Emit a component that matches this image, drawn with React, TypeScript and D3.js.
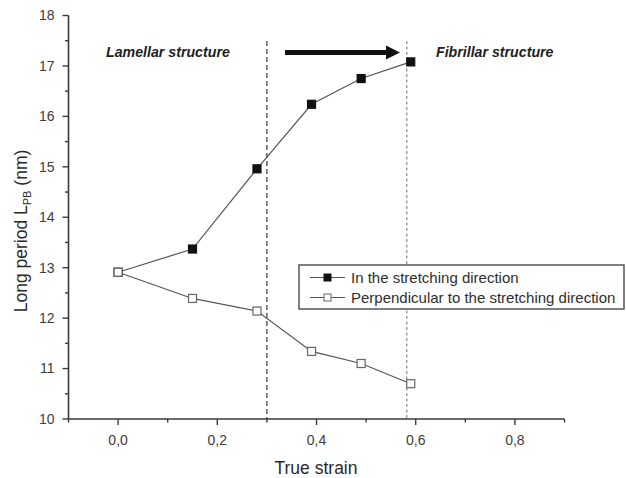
import React, { useEffect, useRef } from "react";
import * as d3 from "d3";

const strain = [0, 0.15, 0.28, 0.39, 0.49, 0.59];
const stretching = [12.91, 13.37, 14.96, 16.24, 16.75, 17.08];
const perpendicular = [12.91, 12.39, 12.14, 11.34, 11.1, 10.7];
const xTicks = [0, 0.2, 0.4, 0.6, 0.8];
const yTicks = [10, 11, 12, 13, 14, 15, 16, 17, 18];
const boundaries = [0.3, 0.582];
const legendLabels = ["In the stretching direction", "Perpendicular to the stretching direction"];

const width = 626;
const height = 478;
const font = "Arial, 'Liberation Sans', sans-serif";

const App = () => {
  const ref = useRef<SVGSVGElement>(null);

  useEffect(() => {
    const svg = d3.select(ref.current);
    svg.selectAll("*").remove();

    const x = d3.scaleLinear().domain([-0.1, 0.9]).range([68.5, 564.5]);
    const y = d3.scaleLinear().domain([10, 18]).range([419, 15.5]);

    const axisColor = "#3a3a3a";

    // x axis
    const gx = svg.append("g").attr("transform", `translate(0,${y(10)})`);
    gx.append("line").attr("x1", x(-0.1)).attr("x2", x(0.9)).attr("stroke", axisColor).attr("stroke-width", 1.6);
    d3.range(-0.1, 0.95, 0.1).forEach((v) => {
      const major = xTicks.some((t) => Math.abs(t - v) < 1e-6);
      gx.append("line")
        .attr("x1", x(v)).attr("x2", x(v))
        .attr("y1", 0).attr("y2", major ? 6 : 3.5)
        .attr("stroke", axisColor).attr("stroke-width", 1.4);
    });
    gx.selectAll("text.tick")
      .data(xTicks)
      .enter()
      .append("text")
      .attr("x", (d) => x(d))
      .attr("y", 26)
      .attr("text-anchor", "middle")
      .style("font-family", font)
      .style("font-size", "14px")
      .style("fill", "#3c3c3c")
      .text((d) => d3.format(".1f")(d).replace(".", ","));

    // y axis
    const gy = svg.append("g").attr("transform", `translate(${x(-0.1)},0)`);
    gy.append("line").attr("y1", y(10)).attr("y2", y(18)).attr("stroke", axisColor).attr("stroke-width", 1.6);
    d3.range(10, 18.01, 0.5).forEach((v) => {
      const major = Number.isInteger(v);
      gy.append("line")
        .attr("x1", major ? -6 : -3.5).attr("x2", 0)
        .attr("y1", y(v)).attr("y2", y(v))
        .attr("stroke", axisColor).attr("stroke-width", 1.4);
    });
    gy.selectAll("text.tick")
      .data(yTicks)
      .enter()
      .append("text")
      .attr("x", -14)
      .attr("y", (d) => y(d))
      .attr("dy", "0.35em")
      .attr("text-anchor", "end")
      .style("font-family", font)
      .style("font-size", "14px")
      .style("fill", "#3c3c3c")
      .text((d) => d);

    // axis titles
    svg.append("text")
      .attr("x", 316)
      .attr("y", 474)
      .attr("text-anchor", "middle")
      .style("font-family", font)
      .style("font-size", "17.5px")
      .style("fill", "#2a2a2a")
      .text("True strain");

    const yl = svg.append("text")
      .attr("transform", `translate(27,231) rotate(-90)`)
      .attr("text-anchor", "middle")
      .style("font-family", font)
      .style("font-size", "17.5px")
      .style("fill", "#2a2a2a");
    yl.append("tspan").text("Long period L");
    yl.append("tspan").attr("dy", 4).style("font-size", "11px").text("PB");
    yl.append("tspan").attr("dy", -4).text(" (nm)");

    // boundary lines
    svg.selectAll("line.boundary")
      .data(boundaries)
      .enter()
      .append("line")
      .attr("x1", (d) => x(d)).attr("x2", (d) => x(d))
      .attr("y1", 41).attr("y2", y(10))
      .attr("stroke", (d, i) => (i === 0 ? "#333" : "#888"))
      .attr("stroke-width", 1.2)
      .attr("stroke-dasharray", (d, i) => (i === 0 ? "5,3" : "3,2.5"));

    // arrow
    svg.append("line")
      .attr("x1", 285).attr("x2", 388)
      .attr("y1", 52.5).attr("y2", 52.5)
      .attr("stroke", "#111").attr("stroke-width", 5);
    svg.append("path")
      .attr("d", d3.line()([[386, 45.5], [400, 52.5], [386, 59.5]]) + "Z")
      .attr("fill", "#111");

    // region labels
    [["Lamellar structure", 106], ["Fibrillar structure", 436]].forEach(([t, px]) => {
      svg.append("text")
        .attr("x", px as number)
        .attr("y", 57)
        .style("font-family", font)
        .style("font-size", "14.2px")
        .style("font-weight", "bold")
        .style("font-style", "italic")
        .style("fill", "#222")
        .text(t as string);
    });

    // series
    const line = d3.line<number>().x((d, i) => x(strain[i])).y((d) => y(d));
    const series = [
      { values: stretching, fill: "#111", stroke: "#111" },
      { values: perpendicular, fill: "#fff", stroke: "#666" },
    ];
    series.forEach((s) => {
      svg.append("path")
        .datum(s.values)
        .attr("d", line)
        .attr("fill", "none")
        .attr("stroke", "#555")
        .attr("stroke-width", 1.2);
    });
    series.forEach((s) => {
      svg.append("g")
        .selectAll("rect")
        .data(s.values)
        .enter()
        .append("rect")
        .attr("x", (d, i) => x(strain[i]) - 4)
        .attr("y", (d) => y(d) - 4)
        .attr("width", 8)
        .attr("height", 8)
        .attr("fill", s.fill)
        .attr("stroke", s.stroke)
        .attr("stroke-width", 1.2);
    });

    // legend
    const lg = svg.append("g");
    lg.append("rect")
      .attr("x", 299).attr("y", 265)
      .attr("width", 325).attr("height", 44)
      .attr("fill", "#fff")
      .attr("stroke", "#555")
      .attr("stroke-width", 1.5);
    series.forEach((s, i) => {
      const ly = 277.5 + i * 20;
      lg.append("line")
        .attr("x1", 310).attr("x2", 345)
        .attr("y1", ly).attr("y2", ly)
        .attr("stroke", "#555").attr("stroke-width", 1.2);
      lg.append("rect")
        .attr("x", 324).attr("y", ly - 3.5)
        .attr("width", 7).attr("height", 7)
        .attr("fill", s.fill).attr("stroke", s.stroke).attr("stroke-width", 1);
      lg.append("text")
        .attr("x", 351)
        .attr("y", ly)
        .attr("dy", "0.35em")
        .style("font-family", font)
        .style("font-size", "15px")
        .style("fill", "#2e2e2e")
        .text(legendLabels[i]);
    });
  }, []);

  return (
    <svg
      ref={ref}
      width={width}
      height={height}
      style={{ position: "absolute", left: 0, top: 0, background: "#fff" }}
    />
  );
};

export default App;
